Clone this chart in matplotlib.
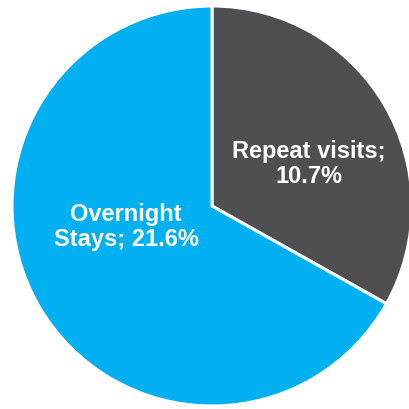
import matplotlib
matplotlib.use("Agg")
from matplotlib import pyplot as plt

categories = ["Repeat visits", "Overnight Stays"]
shares = [10.7, 21.6]
colors = ["#4F4F51", "#00B0F0"]

# label anchor points in pie units (radius = 1)
label_pos = [(0.485, 0.21), (-0.43, -0.105)]
label_text = ["Repeat visits;\n{:.1f}%", "Overnight\nStays; {:.1f}%"]

fig = plt.figure(figsize=(4.09, 4.09), dpi=100)
ax = fig.add_axes([0, 0, 1, 1])

ax.pie(
    shares,
    colors=colors,
    startangle=90,
    counterclock=False,
    radius=1.0,
    wedgeprops=dict(edgecolor="white", linewidth=2.2),
)

for (x, y), fmt, val in zip(label_pos, label_text, shares):
    ax.text(
        x, y, fmt.format(val),
        ha="center", va="center",
        color="white", fontsize=17, fontweight="bold",
        family=["Liberation Sans", "DejaVu Sans"],
        linespacing=1.15,
    )

ax.set_xlim(-1.06, 0.985)
ax.set_ylim(-1.015, 1.03)
ax.set_aspect("equal")
ax.axis("off")

plt.savefig("out.png", dpi=100, facecolor="white")
plt.close()
